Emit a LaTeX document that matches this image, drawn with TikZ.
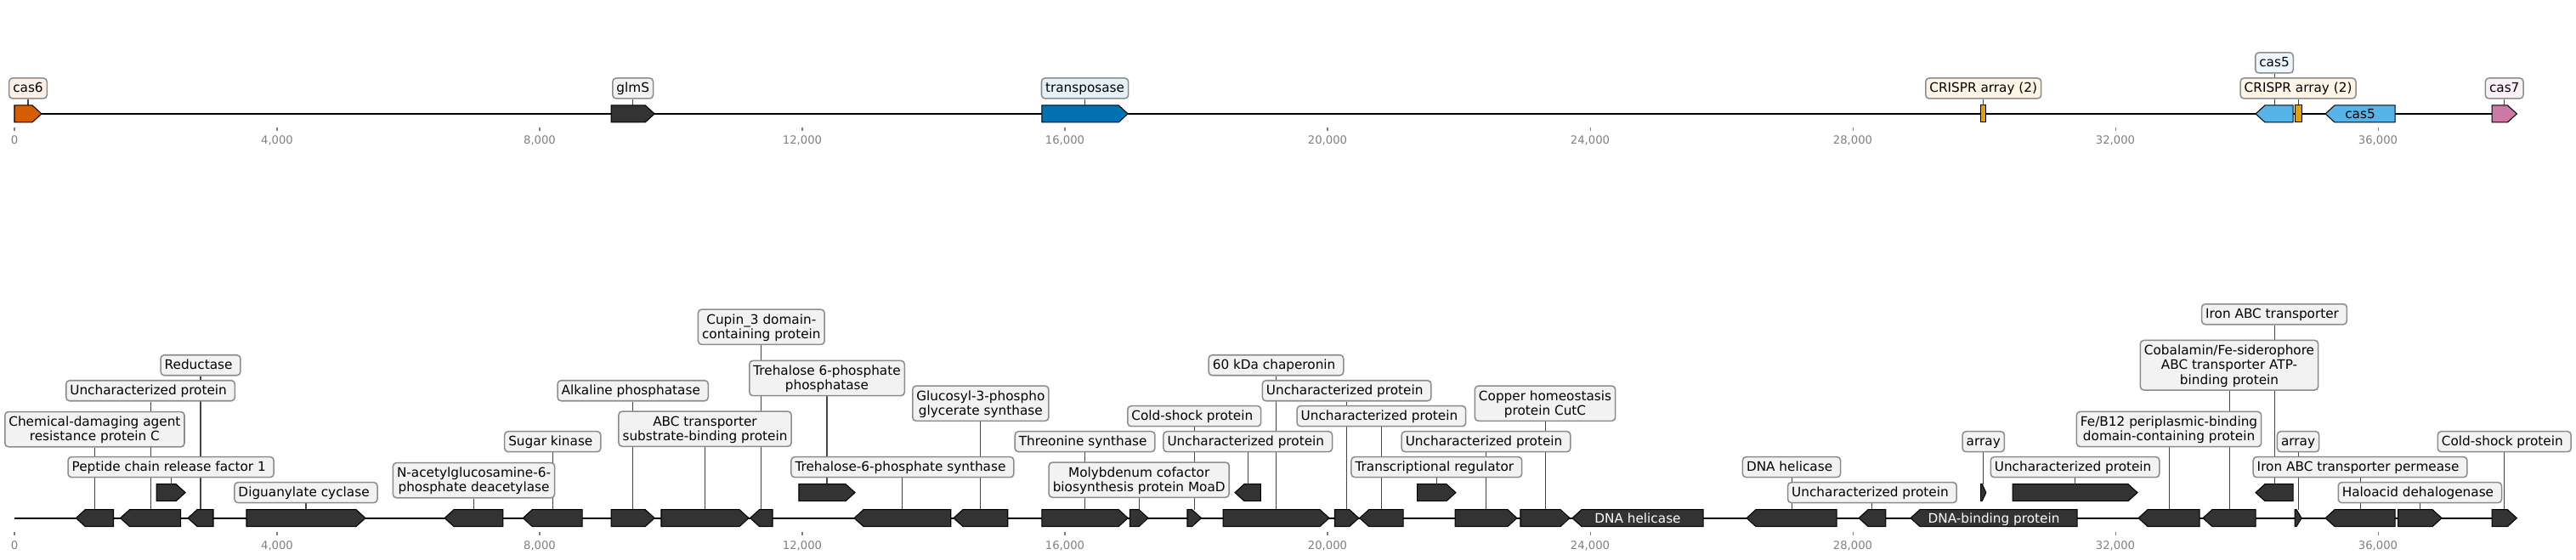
\documentclass[tikz,border=0pt]{standalone}
\usepackage{fontspec}
\setmainfont{DejaVu Sans}
\pgfdeclarelayer{bg}
\pgfdeclarelayer{fg}
\pgfsetlayers{bg,main,fg}
\definecolor{gdark}{HTML}{333333}
\definecolor{cvermil}{HTML}{D55E00}
\definecolor{cblue}{HTML}{0072B2}
\definecolor{csky}{HTML}{56B4E9}
\definecolor{corange}{HTML}{E69F00}
\definecolor{cpurp}{HTML}{CC79A7}
\definecolor{lfill}{HTML}{F2F2F2}
\definecolor{lcassix}{HTML}{FBEFE6}
\definecolor{lblue}{HTML}{E6F1F7}
\definecolor{lcrispr}{HTML}{FCF5E6}
\definecolor{lcasfive}{HTML}{EEF7FD}
\definecolor{lcasseven}{HTML}{FAF1F6}
\definecolor{boxgray}{HTML}{8C8C8C}
\definecolor{conncol}{HTML}{444444}
\definecolor{tickgray}{HTML}{808080}
\newcommand\labfont{\fontsize{11bp}{12.456bp}\selectfont}
\newcommand\tickfont{\fontsize{9.5bp}{11bp}\selectfont}
\newcommand\lstr{\rule[-2.6bp]{0pt}{12.4bp}}
\newcommand\trsp{\kern0.318em}
\tikzset{
  gene/.style={draw=black, line width=0.75bp, line join=miter},
  lbl/.style={draw=boxgray, line width=1.1bp, fill=lfill, rounded corners=3bp,
    inner xsep=3.3bp, inner ysep=2.44bp, align=center, font=\labfont},
  conn/.style={draw=conncol, line width=0.75bp},
  axisline/.style={line width=1.6bp, draw=black},
  tickmark/.style={draw=tickgray, line width=0.75bp},
  ticklab/.style={text=tickgray, font=\tickfont, anchor=base, inner sep=0pt},
  inl/.style={font=\labfont, anchor=base, inner sep=0pt},
}
% #1 name, #2 start kb, #3 end kb, #4 strand, #5 centre y px, #6 style
\newcommand\mkgene[6]{%
  \pgfmathsetmacro\gSt{#2}%
  \pgfmathsetmacro\gEn{#3}%
  \pgfmathsetmacro\gHd{min(0.1424,0.75*(\gEn-\gSt))}%
  \pgfmathsetmacro\gMid{(\gSt+\gEn)/2}%
  \expandafter\xdef\csname gx@#1\endcsname{\gMid}%
  \ifnum#4=1
    \draw[gene,#6] (\gSt,#5-10) -- ({\gEn-\gHd},#5-10) -- (\gEn,#5) -- ({\gEn-\gHd},#5+10) -- (\gSt,#5+10) -- cycle;
  \else\ifnum#4=-1
    \draw[gene,#6] (\gEn,#5-10) -- ({\gSt+\gHd},#5-10) -- (\gSt,#5) -- ({\gSt+\gHd},#5+10) -- (\gEn,#5+10) -- cycle;
  \else
    \draw[gene,#6] (\gSt,#5-10) rectangle (\gEn,#5+10);
  \fi\fi
  \coordinate (#1) at (\gMid,#5-10);
}
% #1 label name, #2 gene name, #3 centre y px, #4 style, #5 text
\newcommand\mklabel[5]{%
  \begin{pgfonlayer}{fg}
    \node[lbl,#4] (#1) at (\csname gx@#2\endcsname,#3) {#5};
  \end{pgfonlayer}
  \begin{pgfonlayer}{bg}
    \draw[conn] (#1.south) -- (#2);
  \end{pgfonlayer}
}
\begin{document}
\begin{tikzpicture}[x=0.7725in, y=-0.01in]
\useasboundingbox (-0.22006,0) rectangle (39.0162,659);
\begin{pgfonlayer}{bg}
  \fill[white] (-0.22006,0) rectangle (39.0162,659);
  \draw[axisline] (0,134) -- (38.115,134);
  \draw[axisline] (0,610) -- (38.115,610);
  \foreach \k in {0,4,...,36} {
    \draw[tickmark] (\k,150) -- (\k,154);
    \draw[tickmark] (\k,626) -- (\k,630);
  }
\end{pgfonlayer}
\foreach \k in {0,4,...,36} {
  \node[ticklab] at (\k,169.5) {\ifnum\k=0 0\else\k,000\fi};
  \node[ticklab] at (\k,646.5) {\ifnum\k=0 0\else\k,000\fi};
}
% ---------------- top track ----------------
\mkgene{ta}{0}{0.414}{1}{134}{fill=cvermil}
\mkgene{tb}{9.09}{9.75}{1}{134}{fill=gdark}
\mkgene{tc}{15.65}{16.96}{1}{134}{fill=cblue}
\mkgene{td}{29.95}{30.03}{0}{134}{fill=corange}
\mkgene{te}{34.136}{34.706}{-1}{134}{fill=csky}
\mkgene{tf}{34.732}{34.836}{0}{134}{fill=corange}
\mkgene{tg}{35.198}{36.259}{-1}{134}{fill=csky}
\mkgene{th}{37.735}{38.115}{1}{134}{fill=cpurp}
\mklabel{lta}{ta}{104}{fill=lcassix}{\lstr cas6}
\mklabel{ltb}{tb}{104}{}{\lstr glmS}
\mklabel{ltc}{tc}{104}{fill=lblue}{\lstr transposase}
\mklabel{ltd}{td}{104}{fill=lcrispr}{\lstr CRISPR array (2)}
\mklabel{lte}{te}{74}{fill=lcasfive}{\lstr cas5}
\mklabel{ltf}{tf}{104}{fill=lcrispr}{\lstr CRISPR array (2)}
\mklabel{lth}{th}{104}{fill=lcasseven}{\lstr cas7}
\node[inl,text=black] (itg) at (\csname gx@tg\endcsname,139.5) {cas5};
% ---------------- bottom track ----------------
\mkgene{b1}{0.936}{1.508}{-1}{610}{fill=gdark}
\mkgene{b2}{1.612}{2.531}{-1}{610}{fill=gdark}
\mkgene{b3}{2.163}{2.604}{1}{580}{fill=gdark}
\mkgene{b4}{2.641}{3.029}{-1}{610}{fill=gdark}
\mkgene{b5}{3.534}{5.346}{1}{610}{fill=gdark}
\mkgene{b6}{6.551}{7.443}{-1}{610}{fill=gdark}
\mkgene{b7}{7.745}{8.650}{-1}{610}{fill=gdark}
\mkgene{b8}{9.09}{9.75}{1}{610}{fill=gdark}
\mkgene{b9}{9.851}{11.185}{1}{610}{fill=gdark}
\mkgene{b10}{11.205}{11.547}{-1}{610}{fill=gdark}
\mkgene{b11}{11.948}{12.803}{1}{580}{fill=gdark}
\mkgene{b12}{12.790}{14.262}{-1}{610}{fill=gdark}
\mkgene{b13}{14.304}{15.129}{-1}{610}{fill=gdark}
\mkgene{b14}{15.65}{16.96}{1}{610}{fill=gdark}
\mkgene{b15}{16.989}{17.269}{1}{610}{fill=gdark}
\mkgene{b16}{17.864}{18.078}{1}{610}{fill=gdark}
\mkgene{b17}{18.589}{18.983}{-1}{580}{fill=gdark}
\mkgene{b18}{18.408}{20.026}{1}{610}{fill=gdark}
\mkgene{b19}{20.110}{20.476}{1}{610}{fill=gdark}
\mkgene{b20}{20.488}{21.153}{-1}{610}{fill=gdark}
\mkgene{b21}{21.368}{21.954}{1}{580}{fill=gdark}
\mkgene{b22}{21.942}{22.886}{1}{610}{fill=gdark}
\mkgene{b23}{22.938}{23.690}{1}{610}{fill=gdark}
\mkgene{b24}{23.728}{25.722}{-1}{610}{fill=gdark}
\mkgene{b25}{26.382}{27.754}{-1}{610}{fill=gdark}
\mkgene{b26}{28.091}{28.502}{-1}{610}{fill=gdark}
\mkgene{b27}{28.880}{31.418}{-1}{610}{fill=gdark}
\mkgene{b28}{29.95}{30.03}{1}{580}{fill=gdark}
\mkgene{b29}{30.434}{32.337}{1}{580}{fill=gdark}
\mkgene{b30}{32.350}{33.282}{-1}{610}{fill=gdark}
\mkgene{b31}{33.333}{34.136}{-1}{610}{fill=gdark}
\mkgene{b32}{34.136}{34.706}{-1}{580}{fill=gdark}
\mkgene{b33}{34.732}{34.836}{1}{610}{fill=gdark}
\mkgene{b34}{35.198}{36.259}{-1}{610}{fill=gdark}
\mkgene{b35}{36.306}{36.972}{1}{610}{fill=gdark}
\mkgene{b36}{37.735}{38.115}{1}{610}{fill=gdark}
\mklabel{l1}{b1}{505.5}{}{\lstr Chemical-damaging agent\\\lstr resistance protein C}
\mklabel{l2}{b2}{460}{}{\lstr Uncharacterized protein\trsp}
\mklabel{l3}{b3}{550}{}{\lstr Peptide chain release factor 1\trsp}
\mklabel{l4}{b4}{430}{}{\lstr Reductase\trsp}
\mklabel{l5}{b5}{580}{}{\lstr Diguanylate cyclase\trsp}
\mklabel{l6}{b6}{565.5}{}{\lstr N-acetylglucosamine-6-\\\lstr phosphate deacetylase}
\mklabel{l7}{b7}{520}{}{\lstr Sugar kinase\trsp}
\mklabel{l8}{b8}{460}{}{\lstr Alkaline phosphatase\trsp}
\mklabel{l9}{b9}{505}{}{\lstr ABC transporter\\\lstr substrate-binding protein}
\mklabel{l10}{b10}{385}{}{\lstr Cupin\_3 domain-\\\lstr containing protein}
\mklabel{l11}{b11}{445.3}{}{\lstr Trehalose 6-phosphate\\\lstr phosphatase}
\mklabel{l12}{b12}{550}{}{\lstr Trehalose-6-phosphate synthase\trsp}
\mklabel{l13}{b13}{475}{}{\lstr Glucosyl-3-phospho\\\lstr glycerate synthase}
\mklabel{l14}{b14}{520}{}{\lstr Threonine synthase\trsp}
\mklabel{l15}{b15}{565}{}{\lstr Molybdenum cofactor\\\lstr biosynthesis protein MoaD}
\mklabel{l16}{b16}{490}{}{\lstr Cold-shock protein\trsp}
\mklabel{l17}{b17}{520}{}{\lstr Uncharacterized protein\trsp}
\mklabel{l18}{b18}{430}{}{\lstr 60 kDa chaperonin\trsp}
\mklabel{l19}{b19}{460}{}{\lstr Uncharacterized protein\trsp}
\mklabel{l20}{b20}{490}{}{\lstr Uncharacterized protein\trsp}
\mklabel{l21}{b21}{550}{}{\lstr Transcriptional regulator\trsp}
\mklabel{l22}{b22}{520}{}{\lstr Uncharacterized protein\trsp}
\mklabel{l23}{b23}{475}{}{\lstr Copper homeostasis\\\lstr protein CutC}
\mklabel{l25}{b25}{550}{}{\lstr DNA helicase\trsp}
\mklabel{l26}{b26}{580}{}{\lstr Uncharacterized protein\trsp}
\mklabel{l28}{b28}{520}{}{\lstr array}
\mklabel{l29}{b29}{550}{}{\lstr Uncharacterized protein\trsp}
\mklabel{l30}{b30}{505.3}{}{\lstr Fe/B12 periplasmic-binding\\\lstr domain-containing protein}
\mklabel{l31}{b31}{430}{}{\lstr Cobalamin/Fe-siderophore\\\lstr ABC transporter ATP-\\\lstr binding protein}
\mklabel{l32}{b32}{370}{}{\lstr Iron ABC transporter\trsp}
\mklabel{l33}{b33}{520}{}{\lstr array}
\mklabel{l34}{b34}{550}{}{\lstr Iron ABC transporter permease\trsp}
\mklabel{l35}{b35}{580}{}{\lstr Haloacid dehalogenase\trsp}
\mklabel{l36}{b36}{520}{}{\lstr Cold-shock protein\trsp}
\node[inl,text=white] (i24) at (\csname gx@b24\endcsname,615.5) {DNA helicase};
\node[inl,text=white] (i27) at (\csname gx@b27\endcsname,615.5) {DNA-binding protein};
\end{tikzpicture}
\end{document}
